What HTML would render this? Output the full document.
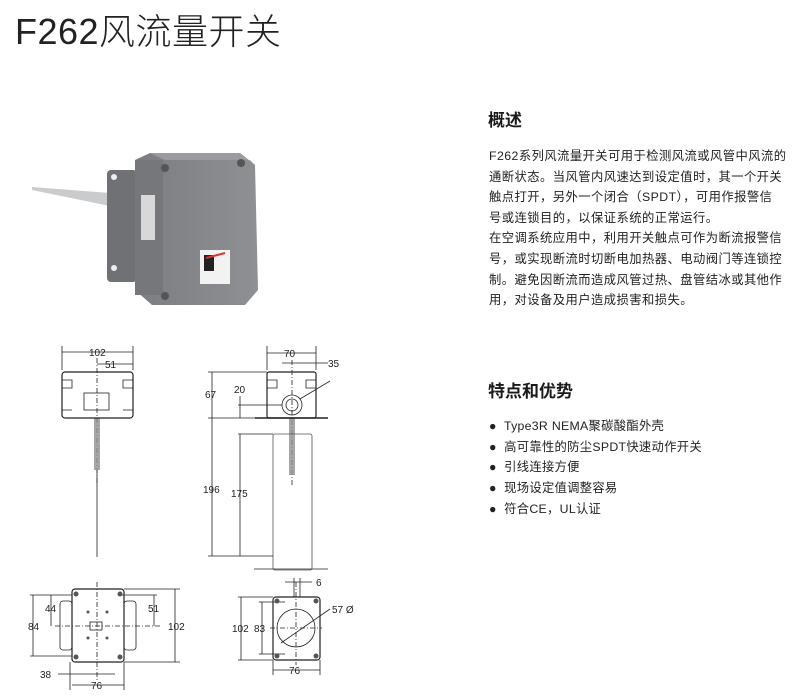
<!DOCTYPE html>
<html><head><meta charset="utf-8">
<style>
body{margin:0;width:798px;height:699px;background:#fff;position:relative;overflow:hidden;font-family:"Liberation Sans","Noto Sans CJK SC",sans-serif;color:#1a1a1a}
.t{position:absolute;white-space:nowrap}
.title{left:15px;top:3px;font-size:36px;font-weight:300;color:#222;letter-spacing:0.5px}
.h{font-size:17px;font-weight:bold;left:488px}
.p{left:489px;font-size:12.3px;line-height:20.6px;letter-spacing:0.45px;color:#222}
.b{left:489px;font-size:12.3px;line-height:20.7px;letter-spacing:0.3px;color:#222}
</style></head><body>
<div class="t title">F262风流量开关</div>

<svg style="position:absolute;left:0;top:0" width="798" height="699">
<defs><linearGradient id="g1" x1="0" x2="1"><stop offset="0" stop-color="#7b7d80"/><stop offset="1" stop-color="#8e9093"/></linearGradient></defs>
<polygon points="32,187 110,193 110,206 32,190" fill="#c9cbcd"/>
<rect x="107" y="170" width="30" height="112" rx="4" fill="#6f7174"/>
<circle cx="114" cy="177" r="3" fill="#eee"/><circle cx="114" cy="268" r="3" fill="#eee"/>
<polygon points="135,160 150,153 240,153 255,165 258,290 245,305 152,305 135,290" fill="url(#g1)"/>
<polygon points="150,153 165,160 250,160 255,165 240,153" fill="#9a9c9f"/>
<rect x="135" y="160" width="28" height="135" fill="#75777a"/>
<rect x="141" y="195" width="14" height="45" fill="#d8d8d8"/>
<rect x="200" y="250" width="30" height="34" fill="#f2f2f2"/>
<rect x="204" y="255" width="10" height="16" fill="#222"/>
<line x1="206" y1="258" x2="225" y2="253" stroke="#d33" stroke-width="2"/>
<circle cx="165" cy="168" r="4" fill="#555"/><circle cx="241" cy="163" r="4" fill="#555"/><circle cx="165" cy="296" r="4" fill="#555"/>

<g stroke="#222" stroke-width="0.8" fill="none">
<rect x="62" y="372" width="71" height="46" rx="3" stroke-width="1.2"/>
<rect x="84" y="393" width="25" height="17"/>
<path d="M62,380 h10 v8 h-10 M133,380 h-10 v8 h10 M62,410 h10 M133,410 h-10"/>
<line x1="97" y1="418" x2="97" y2="557"/>
<line x1="95" y1="418" x2="95" y2="470"/><line x1="99" y1="418" x2="99" y2="470"/>
<line x1="97" y1="358" x2="97" y2="485" stroke-dasharray="5,2,1,2"/>
<line x1="62" y1="346" x2="62" y2="370"/><line x1="133" y1="346" x2="133" y2="370"/>
<line x1="62" y1="352" x2="133" y2="352"/>
<line x1="97" y1="364" x2="133" y2="364"/>
<rect x="267" y="372" width="49" height="46" rx="2" stroke-width="1.2"/>
<path d="M267,380 h10 v8 h-10 M316,380 h-10 v8 h10"/>
<circle cx="292" cy="405" r="10"/><circle cx="292" cy="405" r="6"/>
<line x1="255" y1="418" x2="328" y2="418" stroke-width="1.4"/>
<line x1="292" y1="418" x2="292" y2="475"/><line x1="290" y1="418" x2="290" y2="475"/><line x1="294" y1="418" x2="294" y2="475"/>
<line x1="292" y1="360" x2="292" y2="485" stroke-dasharray="5,2,1,2"/>
<rect x="273" y="434" width="39" height="136" rx="2" stroke="#555"/>
<line x1="254" y1="569" x2="328" y2="569"/>
<line x1="267" y1="346" x2="267" y2="370"/><line x1="316" y1="346" x2="316" y2="370"/>
<line x1="267" y1="353" x2="316" y2="353"/>
<line x1="282" y1="363" x2="328" y2="363"/>
<line x1="300" y1="399" x2="330" y2="381"/>
<line x1="208" y1="372" x2="267" y2="372"/>
<line x1="208" y1="418" x2="255" y2="418"/>
<line x1="208" y1="556" x2="273" y2="556"/>
<line x1="238" y1="434" x2="273" y2="434"/>
<line x1="238" y1="405" x2="282" y2="405"/>
<line x1="212" y1="372" x2="212" y2="556"/>
<line x1="240" y1="434" x2="240" y2="556"/>
<line x1="240" y1="396" x2="240" y2="418"/>
<rect x="60" y="601" width="12" height="49" rx="3"/><rect x="124" y="601" width="12" height="49" rx="3"/>
<rect x="72" y="589" width="52" height="73" rx="3" stroke-width="1.2"/>
<line x1="97" y1="582" x2="97" y2="680" stroke-dasharray="5,2,1,2"/>
<line x1="55" y1="626" x2="160" y2="626" stroke-dasharray="5,2,1,2"/>
<rect x="90" y="622" width="12" height="8"/>
<line x1="124" y1="589" x2="180" y2="589"/><line x1="124" y1="662" x2="180" y2="662"/>
<line x1="175" y1="589" x2="175" y2="662"/>
<line x1="30" y1="595" x2="72" y2="595"/><line x1="30" y1="656" x2="72" y2="656"/>
<line x1="33" y1="595" x2="33" y2="656"/>
<line x1="51" y1="595" x2="51" y2="626"/>
<line x1="154" y1="595" x2="154" y2="626"/><line x1="120" y1="595" x2="157" y2="595"/>
<line x1="70" y1="662" x2="70" y2="690"/><line x1="124" y1="662" x2="124" y2="690"/>
<line x1="58" y1="674" x2="115" y2="674"/>
<line x1="72" y1="685" x2="124" y2="685"/>
<rect x="273" y="597" width="47" height="63" rx="3" stroke-width="1.2"/>
<circle cx="296" cy="628" r="19"/>
<line x1="270" y1="628" x2="322" y2="628" stroke-dasharray="5,2,1,2"/>
<line x1="296" y1="582" x2="296" y2="665" stroke-dasharray="5,2,1,2"/>
<line x1="281" y1="643" x2="330" y2="609"/>
<line x1="238" y1="597" x2="273" y2="597"/><line x1="238" y1="660" x2="273" y2="660"/>
<line x1="241" y1="597" x2="241" y2="660"/>
<line x1="259" y1="602" x2="285" y2="602"/><line x1="259" y1="654" x2="285" y2="654"/>
<line x1="262" y1="602" x2="262" y2="654"/>
<line x1="273" y1="660" x2="273" y2="675"/><line x1="320" y1="660" x2="320" y2="675"/>
<line x1="273" y1="670" x2="320" y2="670"/>
<line x1="294" y1="578" x2="294" y2="597"/><line x1="300" y1="578" x2="300" y2="597"/>
<line x1="285" y1="582" x2="312" y2="582"/>
</g>
<g fill="#555">
<circle cx="76" cy="594" r="2.5"/><circle cx="120" cy="594" r="2.5"/><circle cx="76" cy="657" r="2.5"/><circle cx="120" cy="657" r="2.5"/>
<circle cx="277" cy="601" r="2.5"/><circle cx="316" cy="601" r="2.5"/><circle cx="277" cy="656" r="2.5"/><circle cx="316" cy="656" r="2.5"/>
<circle cx="88" cy="612" r="1.5"/><circle cx="107" cy="612" r="1.5"/><circle cx="88" cy="638" r="1.5"/><circle cx="107" cy="638" r="1.5"/>
</g>
<g font-family="Liberation Sans,sans-serif" font-size="10" fill="#222">
<text x="89" y="356">102</text><text x="105" y="368">51</text>
<text x="284" y="357">70</text><text x="328" y="367">35</text>
<text x="205" y="398">67</text><text x="234" y="393">20</text>
<text x="203" y="493">196</text><text x="231" y="497">175</text>
<text x="45" y="612">44</text><text x="148" y="612">51</text>
<text x="28" y="630">84</text><text x="168" y="630">102</text>
<text x="40" y="678">38</text><text x="91" y="689">76</text>
<text x="316" y="586">6</text><text x="332" y="613">57 Ø</text>
<text x="232" y="632">102</text><text x="254" y="632">83</text>
<text x="289" y="674">76</text>
</g>
</svg>

<div class="t h" style="top:106px">概述</div>
<div class="t p" style="top:146px">F262系列风流量开关可用于检测风流或风管中风流的<br>通断状态。当风管内风速达到设定值时，其一个开关<br>触点打开，另外一个闭合（SPDT），可用作报警信<br>号或连锁目的，以保证系统的正常运行。<br>在空调系统应用中，利用开关触点可作为断流报警信<br>号，或实现断流时切断电加热器、电动阀门等连锁控<br>制。避免因断流而造成风管过热、盘管结冰或其他作<br>用，对设备及用户造成损害和损失。</div>
<div class="t h" style="top:377px">特点和优势</div>
<div class="t b" style="top:416px">●&nbsp; Type3R NEMA聚碳酸酯外壳<br>●&nbsp; 高可靠性的防尘SPDT快速动作开关<br>●&nbsp; 引线连接方便<br>●&nbsp; 现场设定值调整容易<br>●&nbsp; 符合CE，UL认证</div>
</body></html>
